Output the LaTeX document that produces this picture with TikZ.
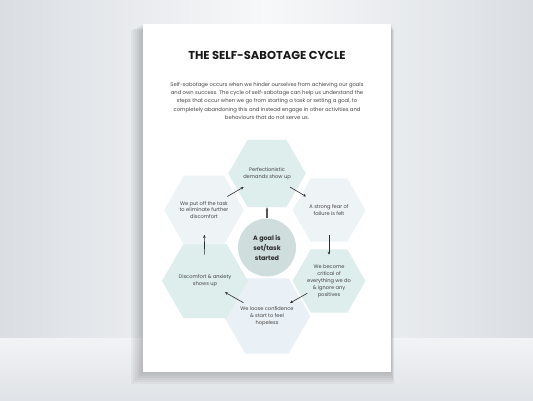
\documentclass[tikz,border=0pt]{standalone}
\usepackage{fontspec}
\setmainfont{Poppins}
\usepackage{tikz}
\usetikzlibrary{arrows.meta,calc,shapes.geometric}
\definecolor{wallGrey}{RGB}{218,222,227}
\definecolor{wallLight}{RGB}{247,248,249}
\definecolor{floorGrey}{RGB}{224,227,231}
\definecolor{floorLight}{RGB}{241,243,245}
\definecolor{inkGrey}{RGB}{68,68,68}
\definecolor{hexTeal}{RGB}{221,238,236}
\definecolor{hexMist}{RGB}{238,243,246}
\definecolor{hexSky}{RGB}{234,241,246}
\definecolor{goalSage}{RGB}{207,222,221}
\definecolor{arrowInk}{RGB}{45,45,45}

\tikzset{
 hexcell/.style={regular polygon,regular polygon sides=6,minimum size=73pt,inner sep=0pt,
   align=center,text=inkGrey,font=\fontsize{5.1}{6.9}\selectfont},
 cyclearrow/.style={draw=arrowInk,line width=0.6pt,-{Stealth[length=3pt,width=2.6pt]}}
}

\begin{document}
\begin{tikzpicture}[x=1pt,y=-1pt]
 \useasboundingbox (0,0) rectangle (533,400);
 % backdrop and page
 \shade[left color=wallGrey,right color=wallGrey,middle color=wallLight] (0,0) rectangle (533,338);
 \shade[top color=floorLight,bottom color=floorGrey] (0,338) rectangle (533,400);
 \foreach \i in {1,...,6}
   \fill[black,opacity=0.035] (143-2*\i,24+\i) rectangle (391+0.5*\i,372+2*\i);
 \fill[white] (143,24) rectangle (391,372);

 \node[font=\bfseries\fontsize{11.5}{13}\selectfont,text=black!90] (title) at (267,55)
   {THE SELF-SABOTAGE CYCLE};
 \node[align=center,text=inkGrey,font=\fontsize{5.25}{8.3}\selectfont] (intro) at (267,101)
   {Self-sabotage occurs when we hinder ourselves from achieving our goals\\
    and own success. The cycle of self-sabotage can help us understand the\\
    steps that occur when we go from starting a task or setting a goal, to\\
    completely abandoning this and instead engage in other activities and\\
    behaviours that do not serve us.};

 % the cycle
 \node[hexcell,fill=hexTeal] (demands) at (267,173.5) {Perfectionistic\\demands show up};
 \node[hexcell,fill=hexMist] (fear) at (329,210) {A strong fear of\\failure is felt};
 \node[hexcell,fill=hexTeal] (critical) at (329,281)
   {We become\\critical of\\everything we do\\\& ignore any\\positives};
 \node[hexcell,fill=hexSky] (hopeless) at (267,316) {We loose confidence\\\& start to feel\\hopeless};
 \node[hexcell,fill=hexTeal] (anxiety) at (205,281) {Discomfort \& anxiety\\shows up};
 \node[hexcell,fill=hexMist] (delay) at (204,210) {We put off the task\\to eliminate further\\discomfort};
 \node[circle,fill=goalSage,minimum size=58pt,inner sep=0pt,align=center,text=arrowInk,
   font=\bfseries\fontsize{6.4}{10}\selectfont] (goal) at (267,247.5) {A goal is\\set/task\\started};

 \draw[cyclearrow,draw=arrowInk!80,line width=1.1pt] (goal) -- (demands);
 \draw[cyclearrow] ($(demands)!.37!(fear)$) -- ($(demands)!.63!(fear)$);
 \draw[cyclearrow] ($(fear)!.35!(critical)$) -- ($(fear)!.63!(critical)$);
 \draw[cyclearrow] ($(critical)!.35!(hopeless)$) -- ($(critical)!.63!(hopeless)$);
 \draw[cyclearrow] ($(hopeless)!.38!(anxiety)$) -- ($(hopeless)!.68!(anxiety)$);
 \draw[cyclearrow] ($(anxiety)!.37!(delay)$) -- ($(anxiety)!.65!(delay)$);
 \draw[cyclearrow] ($(delay)!.37!(demands)$) -- ($(delay)!.63!(demands)$);
\end{tikzpicture}
\end{document}
